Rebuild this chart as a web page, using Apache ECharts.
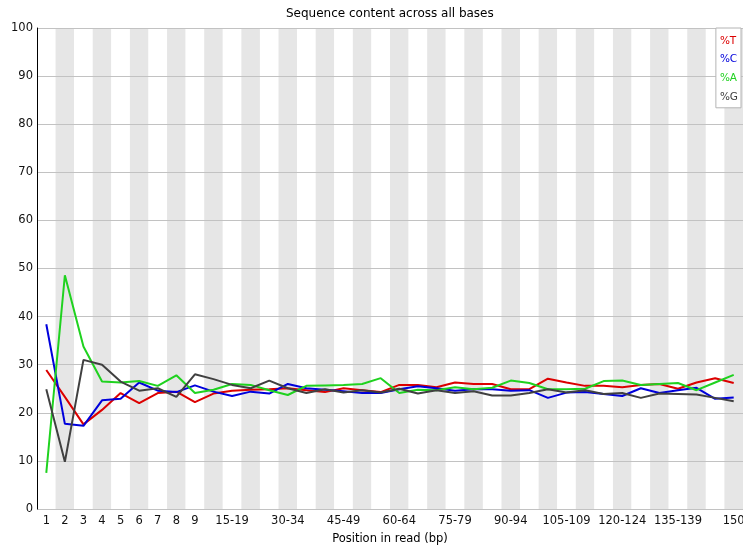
<!DOCTYPE html>
<html>
<head>
<meta charset="utf-8">
<script src="https://cdn.jsdelivr.net/npm/echarts@6/dist/echarts.min.js"></script>
<style>
  html, body { margin: 0; padding: 0; background: #fff; }
  #chart { width: 743px; height: 545px; }
</style>
</head>
<body>
<div id="chart"></div>
<script>
// Base positions along the read (single bases 1-9, then 5-bp bins, then 150)
const positions = [
  '1', '2', '3', '4', '5', '6', '7', '8', '9',
  '10-14', '15-19', '20-24', '25-29', '30-34', '35-39', '40-44', '45-49',
  '50-54', '55-59', '60-64', '65-69', '70-74', '75-79', '80-84', '85-89',
  '90-94', '95-99', '100-104', '105-109', '110-114', '115-119', '120-124',
  '125-129', '130-134', '135-139', '140-144', '145-149', '150'
];

// Percentage of each base at every position
const pctT = [
  28.9, 23.3, 17.6, 20.6, 24.1, 22.0, 24.1, 24.4, 22.2,
  24.0, 24.6, 24.8, 24.9, 25.1, 24.7, 24.3, 25.1, 24.7, 24.3, 25.8,
  25.8, 25.3, 26.3, 26.0, 26.0, 24.9, 24.9, 27.1, 26.3, 25.6, 25.6,
  25.3, 25.8, 26.0, 25.0, 26.3, 27.2, 26.2
];
const pctC = [
  38.4, 17.7, 17.3, 22.6, 22.9, 26.3, 24.6, 24.3, 25.7,
  24.4, 23.5, 24.4, 24.0, 26.0, 25.1, 24.8, 24.5, 24.1, 24.1, 24.9,
  25.5, 25.1, 24.6, 24.9, 24.9, 24.6, 24.7, 23.1, 24.2, 24.3, 23.9,
  23.5, 25.1, 24.1, 24.7, 25.2, 22.9, 23.2
];
const pctA = [
  7.5, 48.6, 33.8, 26.5, 26.3, 26.6, 25.6, 27.8, 24.1,
  24.8, 26.0, 25.8, 24.7, 23.7, 25.6, 25.7, 25.8, 26.0, 27.2, 24.1,
  24.8, 24.7, 25.3, 24.9, 25.2, 26.7, 26.2, 24.9, 24.9, 25.0, 26.6,
  26.7, 25.8, 26.0, 26.2, 24.7, 26.3, 27.9
];
const pctG = [
  24.9, 9.8, 31.0, 30.0, 26.5, 24.6, 25.1, 23.3, 28.0,
  27.0, 25.8, 25.1, 26.7, 25.1, 24.1, 24.9, 24.2, 24.7, 24.2, 25.0,
  24.0, 24.7, 24.1, 24.5, 23.6, 23.6, 24.1, 24.9, 24.2, 24.7, 23.9,
  24.1, 23.1, 24.0, 23.9, 23.8, 23.1, 22.4
];

const seriesDefs = [
  { name: '%T', data: pctT, color: '#dc0000' },
  { name: '%C', data: pctC, color: '#0000dc' },
  { name: '%A', data: pctA, color: '#1fd21f' },
  { name: '%G', data: pctG, color: '#404040' }
];

const FONT = 'DejaVu Sans';
const chart = echarts.init(document.getElementById('chart'), null, { renderer: 'canvas' });

chart.setOption({
  animation: false,
  backgroundColor: '#ffffff',
  title: {
    text: 'Sequence content across all bases',
    left: 281,
    top: 3,
    textStyle: { fontFamily: FONT, fontSize: 12, fontWeight: 'normal', color: '#000' }
  },
  legend: {
    orient: 'vertical',
    right: 2,
    top: 28,
    padding: [6, 3, 4, 3],
    backgroundColor: '#ffffff',
    borderColor: '#b4b4b4',
    borderWidth: 1,
    itemWidth: 0,
    itemHeight: 0,
    itemGap: 5,
    selectedMode: false,
    textStyle: { fontFamily: FONT, fontSize: 10.5, lineHeight: 13.7, padding: [0, 0, 0, -4] },
    data: seriesDefs.map(s => ({ name: s.name, icon: 'rect', textStyle: { color: s.color } }))
  },
  grid: { left: 37, right: 0, top: 28, bottom: 36, containLabel: false, outerBoundsMode: 'none' },
  xAxis: {
    type: 'category',
    data: positions,
    boundaryGap: true,
    z: -1,
    name: 'Position in read (bp)',
    nameLocation: 'middle',
    nameGap: 24,
    nameTextStyle: { fontFamily: FONT, fontSize: 11.5, color: '#000' },
    axisLine: { show: false },
    axisTick: { show: false },
    axisLabel: {
      fontFamily: FONT,
      fontSize: 11.5,
      color: '#111',
      margin: 6,
      interval: (idx) => idx < 9 || (idx >= 10 && (idx - 10) % 3 === 0)
    },
    splitLine: { show: false },
    splitArea: {
      show: true,
      interval: 0,
      areaStyle: { color: ['#ffffff', '#e6e6e6'] }
    }
  },
  yAxis: {
    type: 'value',
    min: 0,
    max: 100,
    interval: 10,
    z: 1,
    axisLine: { show: true, lineStyle: { color: '#000', width: 1 } },
    axisTick: { show: false },
    axisLabel: { fontFamily: FONT, fontSize: 11.5, color: '#111', margin: 4 },
    splitLine: { show: true, lineStyle: { color: '#c2c2c2', width: 1 } }
  },
  series: seriesDefs.map(s => ({
    name: s.name,
    type: 'line',
    data: s.data,
    symbol: 'none',
    smooth: false,
    z: 3,
    lineStyle: { color: s.color, width: 2 },
    itemStyle: { color: s.color }
  }))
});
</script>
</body>
</html>
